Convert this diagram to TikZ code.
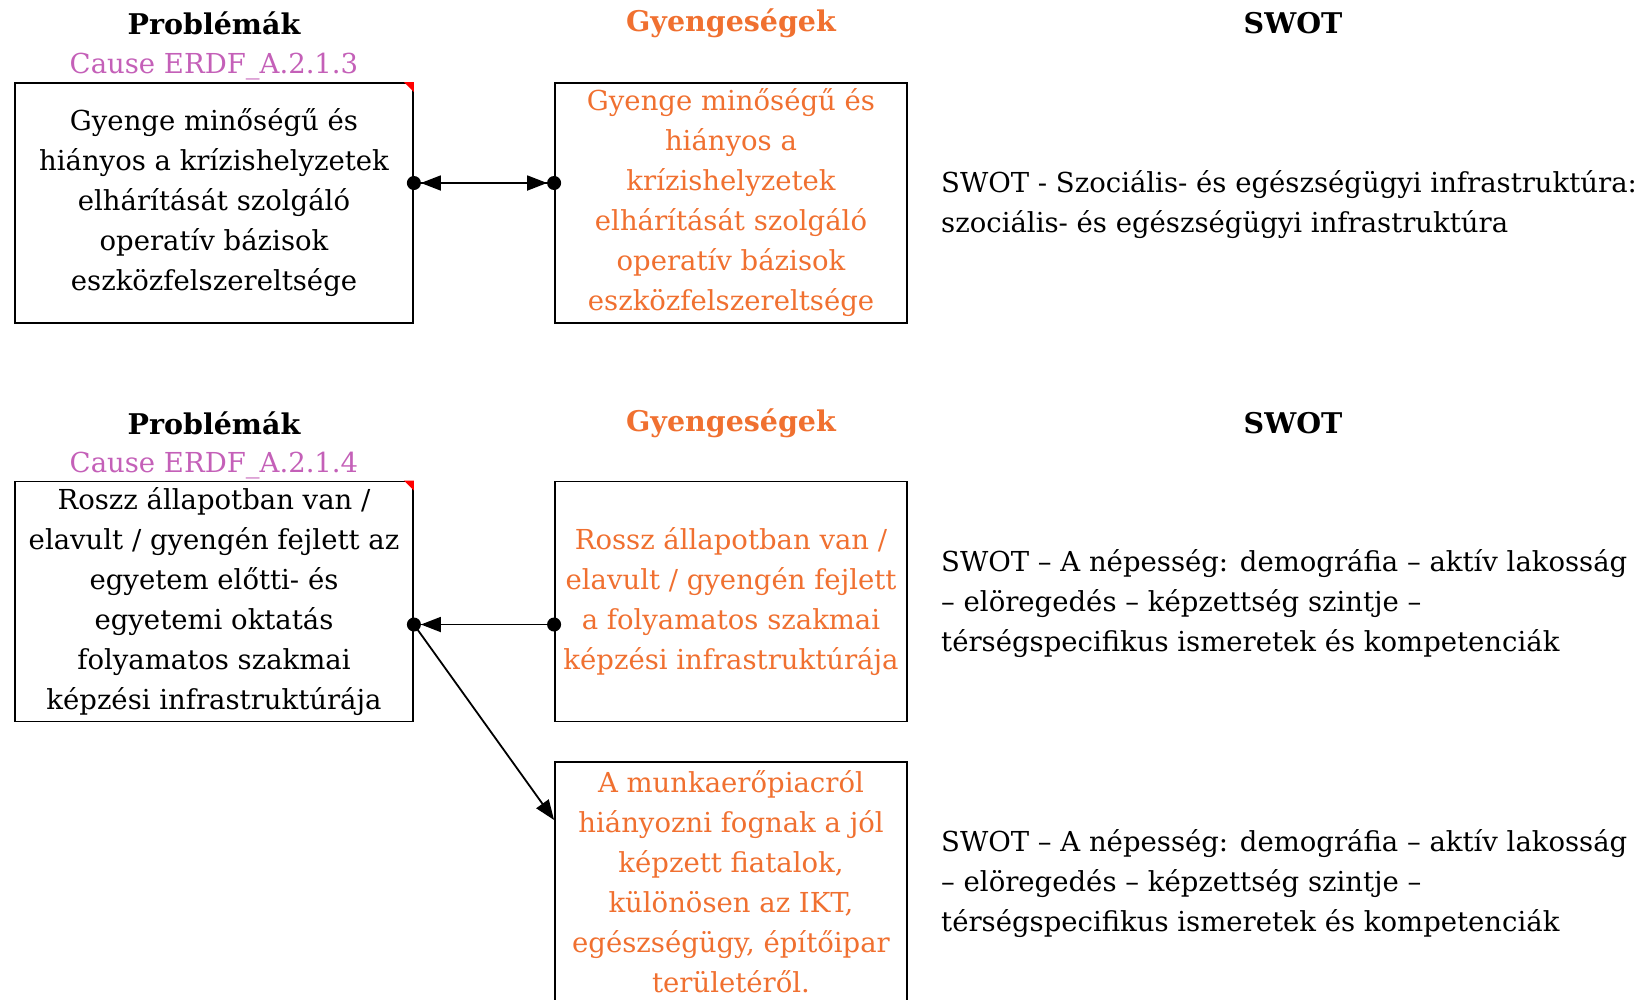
\documentclass[tikz,border=0pt]{standalone}
\usepackage{fontspec}
\setmainfont{DejaVu Serif}
\usetikzlibrary{arrows.meta}
\definecolor{gyorange}{RGB}{240,112,48}
\definecolor{causepink}{RGB}{196,96,184}
\tikzset{
  tri/.tip={Triangle[length=20pt,width=15pt]},
  blob/.tip={Circle[length=14pt]}
}

\begin{document}
\begin{tikzpicture}[x=1pt,y=-1pt,
   txt/.style={font=\fontsize{27.5}{40}\selectfont,align=center,inner sep=0pt},
   hdr/.style={font=\bfseries\fontsize{28.5}{40}\selectfont,inner sep=0pt},
   probbox/.style={txt,draw,line width=1.8pt,minimum width=398pt,minimum height=240pt},
   gyenbox/.style={txt,draw,line width=1.8pt,minimum width=352pt,minimum height=240pt,text=gyorange},
   swot/.style={txt,align=left,anchor=west},
   link/.style={line width=1.8pt}]
   \useasboundingbox (0,0) rectangle (1648,999);
   % first row
   \node[hdr] (hdrprob1) at (214,23) {Problémák};
   \node[txt,text=causepink] (hdrcause1) at (214,67) {Cause ERDF\_A.2.1.3};
   \node[hdr,text=gyorange] (hdrgyen1) at (731,23) {Gyengeségek};
   \node[hdr] (hdrswot1) at (1293,23) {SWOT};
   \node[probbox] (prob1) at (214,203) {Gyenge minőségű és\\hiányos a krízishelyzetek\\elhárítását szolgáló\\operatív bázisok\\eszközfelszereltsége};
   \node[gyenbox] (gyen1) at (731,203) {Gyenge minőségű és\\hiányos a\\krízishelyzetek\\elhárítását szolgáló\\operatív bázisok\\eszközfelszereltsége};
   \node[swot] (swot1) at (941,205) {SWOT - Szociális- és egészségügyi infrastruktúra:\\szociális- és egészségügyi infrastruktúra};
   \fill[red] (prob1.north east) -- ++(-10,0) -- ++(10,10) -- cycle;
   \draw[link,{blob[]tri[]}-{tri[]blob[]},shorten <=-7pt,shorten >=-7pt]
      ([yshift=20pt]prob1.east) -- ([yshift=20pt]gyen1.west);
   % second row
   \node[hdr] (hdrprob2) at (214,423) {Problémák};
   \node[txt,text=causepink] (hdrcause2) at (214,466) {Cause ERDF\_A.2.1.4};
   \node[hdr,text=gyorange] (hdrgyen2) at (731,423) {Gyengeségek};
   \node[hdr] (hdrswot2) at (1293,423) {SWOT};
   \node[probbox] (prob2) at (214,601.5) {Roszz állapotban van /\\elavult / gyengén fejlett az\\egyetem előtti- és\\egyetemi oktatás\\folyamatos szakmai\\képzési infrastruktúrája};
   \node[gyenbox] (gyen2) at (731,601.5) {Rossz állapotban van /\\elavult / gyengén fejlett\\a folyamatos szakmai\\képzési infrastruktúrája};
   \node[gyenbox] (gyen3) at (731,882) {A munkaerőpiacról\\hiányozni fognak a jól\\képzett fiatalok,\\különösen az IKT,\\egészségügy, építőipar\\területéről.};
   \node[swot] (swot2) at (941,604) {SWOT – A népesség: demográfia – aktív lakosság\\– elöregedés – képzettség szintje –\\térségspecifikus ismeretek és kompetenciák};
   \node[swot] (swot3) at (941,884) {SWOT – A népesség: demográfia – aktív lakosság\\– elöregedés – képzettség szintje –\\térségspecifikus ismeretek és kompetenciák};
   \fill[red] (prob2.north east) -- ++(-10,0) -- ++(10,10) -- cycle;
   \draw[link,{blob[]}-{tri[]blob[]},shorten <=-7pt,shorten >=-7pt]
      ([yshift=-23pt]gyen2.west) -- ([yshift=-23pt]prob2.east);
   \draw[link,-{tri[]}] ([yshift=-23pt]prob2.east) -- ([yshift=62pt]gyen3.west);
\end{tikzpicture}
\end{document}
